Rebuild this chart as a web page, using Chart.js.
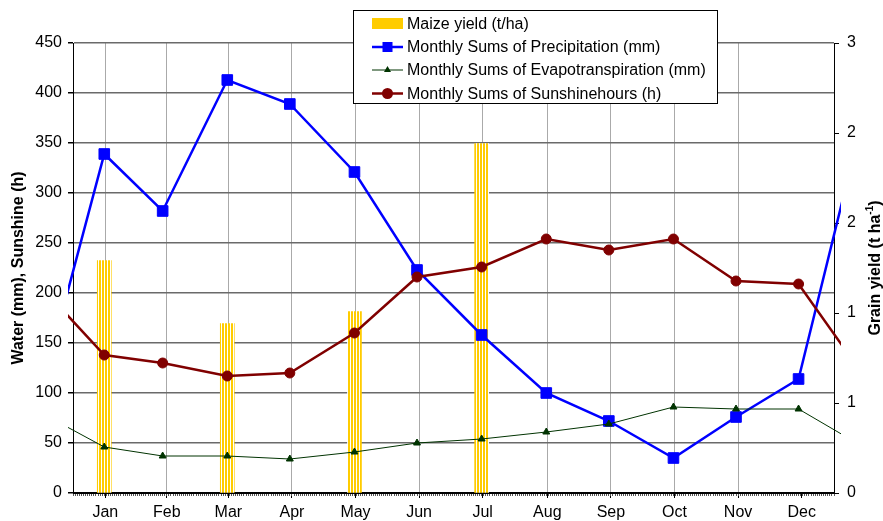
<!DOCTYPE html>
<html>
<head>
<meta charset="utf-8">
<script src="https://cdn.jsdelivr.net/npm/chart.js@4.4.0/dist/chart.umd.min.js"></script>
<style>
html, body { margin: 0; padding: 0; background: #fff; }
#wrap { position: relative; width: 883px; height: 521px; }
</style>
</head>
<body>
<div id="wrap"><canvas id="myChart"></canvas></div>
<script>
// months on the axis, sampled on the day of year below
const months = ["Jan", "Feb", "Mar", "Apr", "May", "Jun", "Jul", "Aug", "Sep", "Oct", "Nov", "Dec"]
const monthStarts = [0, 31, 59, 90, 120, 151, 181, 212, 243, 273, 304, 334, 365]
const sampleDays = [15, 43, 74, 104, 135, 165, 196, 227, 257, 288, 318, 348]

const precipitation = [339, 282, 413, 389, 321, 223, 158, 100, 72, 35, 76, 114]
const evapotranspiration = [46, 37, 37, 34, 41, 50, 54, 61, 69, 86, 84, 84]
const sunshine = [138, 130, 117, 120, 160, 216, 226, 254, 243, 254, 212, 209]

// neighbours outside the year (previous Dec, next Jan) - only their lines show at the edges
const edgeDays = [-17, 380]
const precipitationEdges = [88, 385]
const evapotranspirationEdges = [82, 45]
const sunshineEdges = [210, 115]

const yieldDays = [15, 74, 135, 196]
const maizeYield = [1.55, 1.13, 1.21, 2.33]

const leftTicks = [0, 50, 100, 150, 200, 250, 300, 350, 400, 450]
const rightTicks = [0, 0.6, 1.2, 1.8, 2.4, 3]
const rightTickLabels = ["0", "1", "1", "2", "2", "3"]

const FONT = '"Liberation Sans", Arial, sans-serif'
Chart.defaults.font.family = FONT
Chart.defaults.font.size = 16
Chart.defaults.color = "#000"

const withEdges = (values, edges) => {
  let pts = values.map((v, i) => ({ x: sampleDays[i], y: v }))
  return [{ x: edgeDays[0], y: edges[0] }, ...pts, { x: edgeDays[1], y: edges[1] }]
}

const makeStripes = () => {
  const c = document.createElement("canvas")
  c.width = 3
  c.height = 4
  const g = c.getContext("2d")
  g.fillStyle = "#ffffff"
  g.fillRect(0, 0, 3, 4)
  g.fillStyle = "#ffcc00"
  g.fillRect(0, 0, 2, 4)
  return g.createPattern(c, "repeat")
}

const lineClip = { left: 5, right: 7, top: 0, bottom: 0 }

// legend box drawn over the plot, like the original
const legendBox = {
  id: "legendBox",
  afterDraw(chart) {
    const ctx = chart.ctx
    ctx.save()
    ctx.fillStyle = "#fff"
    ctx.fillRect(353.5, 10.5, 364, 93)
    ctx.strokeStyle = "#000"
    ctx.lineWidth = 1
    ctx.strokeRect(353.5, 10.5, 364, 93)

    const rows = [23.5, 47, 70, 93.5]
    const x0 = 372, x1 = 403, xm = 387.5
    // maize swatch
    ctx.fillStyle = "#ffcc00"
    ctx.fillRect(x0, 18, 31, 11)
    // precipitation
    ctx.strokeStyle = "#0000ff"
    ctx.lineWidth = 2.5
    ctx.beginPath(); ctx.moveTo(x0, rows[1]); ctx.lineTo(x1, rows[1]); ctx.stroke()
    ctx.fillStyle = "#0000ff"
    ctx.fillRect(xm - 5, rows[1] - 5, 10, 10)
    // evapotranspiration
    ctx.strokeStyle = "#003300"
    ctx.lineWidth = 1
    ctx.beginPath(); ctx.moveTo(x0, rows[2]); ctx.lineTo(x1, rows[2]); ctx.stroke()
    ctx.fillStyle = "#003300"
    ctx.beginPath()
    ctx.moveTo(xm, rows[2] - 4); ctx.lineTo(xm + 3.5, rows[2] + 2); ctx.lineTo(xm - 3.5, rows[2] + 2)
    ctx.closePath(); ctx.fill()
    // sunshine
    ctx.strokeStyle = "#800000"
    ctx.lineWidth = 2.5
    ctx.beginPath(); ctx.moveTo(x0, rows[3]); ctx.lineTo(x1, rows[3]); ctx.stroke()
    ctx.fillStyle = "#800000"
    ctx.beginPath(); ctx.arc(xm, rows[3], 5.5, 0, Math.PI * 2); ctx.fill()

    ctx.fillStyle = "#000"
    ctx.font = "16px " + FONT
    ctx.textBaseline = "middle"
    chart.data.datasets.forEach((ds, i) => {
      ctx.fillText(ds.label, 407, rows[i] + 1)
    })
    ctx.restore()
  }
}

// right axis title reads bottom-to-top and has a superscript
const rightTitle = {
  id: "rightTitle",
  afterDraw(chart) {
    const ctx = chart.ctx
    const main = "Grain yield (t ha"
    const sup = "-1"
    const tail = ")"
    ctx.save()
    ctx.translate(874, 268)
    ctx.rotate(-Math.PI / 2)
    ctx.fillStyle = "#000"
    ctx.textBaseline = "alphabetic"
    ctx.font = "bold 16px " + FONT
    const w1 = ctx.measureText(main).width
    const w3 = ctx.measureText(tail).width
    ctx.font = "bold 10px " + FONT
    const w2 = ctx.measureText(sup).width
    let x = -(w1 + w2 + w3) / 2
    ctx.font = "bold 16px " + FONT
    ctx.fillText(main, x, 6)
    ctx.font = "bold 10px " + FONT
    ctx.fillText(sup, x + w1, -1)
    ctx.font = "bold 16px " + FONT
    ctx.fillText(tail, x + w1 + w2, 6)
    ctx.restore()
  }
}

const ctx = document.getElementById("myChart").getContext("2d")
const myChart = new Chart(ctx, {
  type: "line",
  data: {
    datasets: [
      {
        type: "bar",
        label: "Maize yield (t/ha)",
        data: maizeYield.map((v, i) => ({ x: yieldDays[i], y: v })),
        backgroundColor: makeStripes(),
        borderWidth: 0,
        barThickness: 14,
        xAxisID: "x",
        yAxisID: "y2",
        order: 4
      },
      {
        label: "Monthly Sums of Precipitation (mm)",
        data: withEdges(precipitation, precipitationEdges),
        borderColor: "#0000ff",
        backgroundColor: "#0000ff",
        borderWidth: 2.5,
        pointStyle: "rect",
        pointRadius: 7.5,
        pointBorderWidth: 1,
        tension: 0,
        clip: lineClip,
        xAxisID: "x",
        yAxisID: "y",
        order: 3
      },
      {
        label: "Monthly Sums of Evapotranspiration (mm)",
        data: withEdges(evapotranspiration, evapotranspirationEdges),
        borderColor: "#003300",
        backgroundColor: "#003300",
        borderWidth: 1,
        pointStyle: "triangle",
        pointRadius: 4,
        pointBorderWidth: 1,
        tension: 0,
        clip: lineClip,
        xAxisID: "x",
        yAxisID: "y",
        order: 2
      },
      {
        label: "Monthly Sums of Sunshinehours (h)",
        data: withEdges(sunshine, sunshineEdges),
        borderColor: "#800000",
        backgroundColor: "#800000",
        borderWidth: 2.5,
        pointStyle: "circle",
        pointRadius: 5,
        pointBorderWidth: 1,
        tension: 0,
        clip: lineClip,
        xAxisID: "x",
        yAxisID: "y",
        order: 1
      }
    ]
  },
  options: {
    responsive: true,
    maintainAspectRatio: false,
    animation: false,
    devicePixelRatio: 1,
    layout: { padding: { top: 43, left: 0, right: 0, bottom: 0 } },
    plugins: { legend: { display: false }, tooltip: { enabled: false } },
    scales: {
      x: {
        type: "linear",
        position: "bottom",
        min: 0,
        max: 365,
        weight: 0,
        offset: false,
        afterBuildTicks: (scale) => { scale.ticks = monthStarts.map(v => ({ value: v })) },
        afterFit: (scale) => { scale.height = 0 },
        ticks: { display: false },
        grid: {
          color: (c) => (c.tick && (c.tick.value === 0 || c.tick.value === 365)) ? "rgba(0,0,0,0)" : "#aaaaaa",
          lineWidth: 1,
          tickColor: "#000",
          tickLength: 5
        },
        border: { display: true, color: "#000", width: 1 }
      },
      xm: {
        type: "linear",
        position: "bottom",
        min: 0,
        max: 365,
        weight: 1,
        offset: false,
        afterBuildTicks: (scale) => {
          let t = []
          for (let d = 0; d <= 365; d++) t.push({ value: d })
          scale.ticks = t
        },
        afterFit: (scale) => { scale.height = 0 },
        ticks: { display: false },
        grid: { drawOnChartArea: false, tickColor: "#555", tickLength: 3, lineWidth: 1 },
        border: { display: false }
      },
      xl: {
        type: "linear",
        position: "bottom",
        min: 0,
        max: 365,
        weight: 2,
        offset: false,
        afterBuildTicks: (scale) => {
          scale.ticks = months.map((m, i) => ({ value: (monthStarts[i] + monthStarts[i + 1]) / 2 }))
        },
        afterFit: (scale) => { scale.height = 28 },
        ticks: {
          autoSkip: false,
          maxRotation: 0,
          padding: 10,
          callback: (v, i) => months[i]
        },
        grid: { display: false, drawTicks: false },
        border: { display: false }
      },
      y: {
        type: "linear",
        position: "left",
        min: 0,
        max: 450,
        afterBuildTicks: (scale) => { scale.ticks = leftTicks.map(v => ({ value: v })) },
        afterFit: (scale) => { scale.width = 73 },
        ticks: { padding: 6 },
        grid: {
          color: (c) => (c.tick && c.tick.value === 0) ? "#000" : "#6a6a6a",
          lineWidth: 1.5,
          tickColor: "#000",
          tickLength: 5
        },
        border: { display: true, color: "#000", width: 1 },
        title: {
          display: true,
          text: "Water (mm), Sunshine (h)",
          font: { size: 16, weight: "bold" },
          padding: { top: 9, bottom: 0 }
        }
      },
      y2: {
        type: "linear",
        position: "right",
        min: 0,
        max: 3,
        afterBuildTicks: (scale) => { scale.ticks = rightTicks.map(v => ({ value: v })) },
        afterFit: (scale) => { scale.width = 49 },
        ticks: {
          padding: 8,
          callback: (v, i) => rightTickLabels[i]
        },
        grid: { drawOnChartArea: false, tickColor: "#000", tickLength: 5 },
        border: { display: true, color: "#000", width: 1 }
      }
    }
  },
  plugins: [legendBox, rightTitle]
})
</script>
</body>
</html>
